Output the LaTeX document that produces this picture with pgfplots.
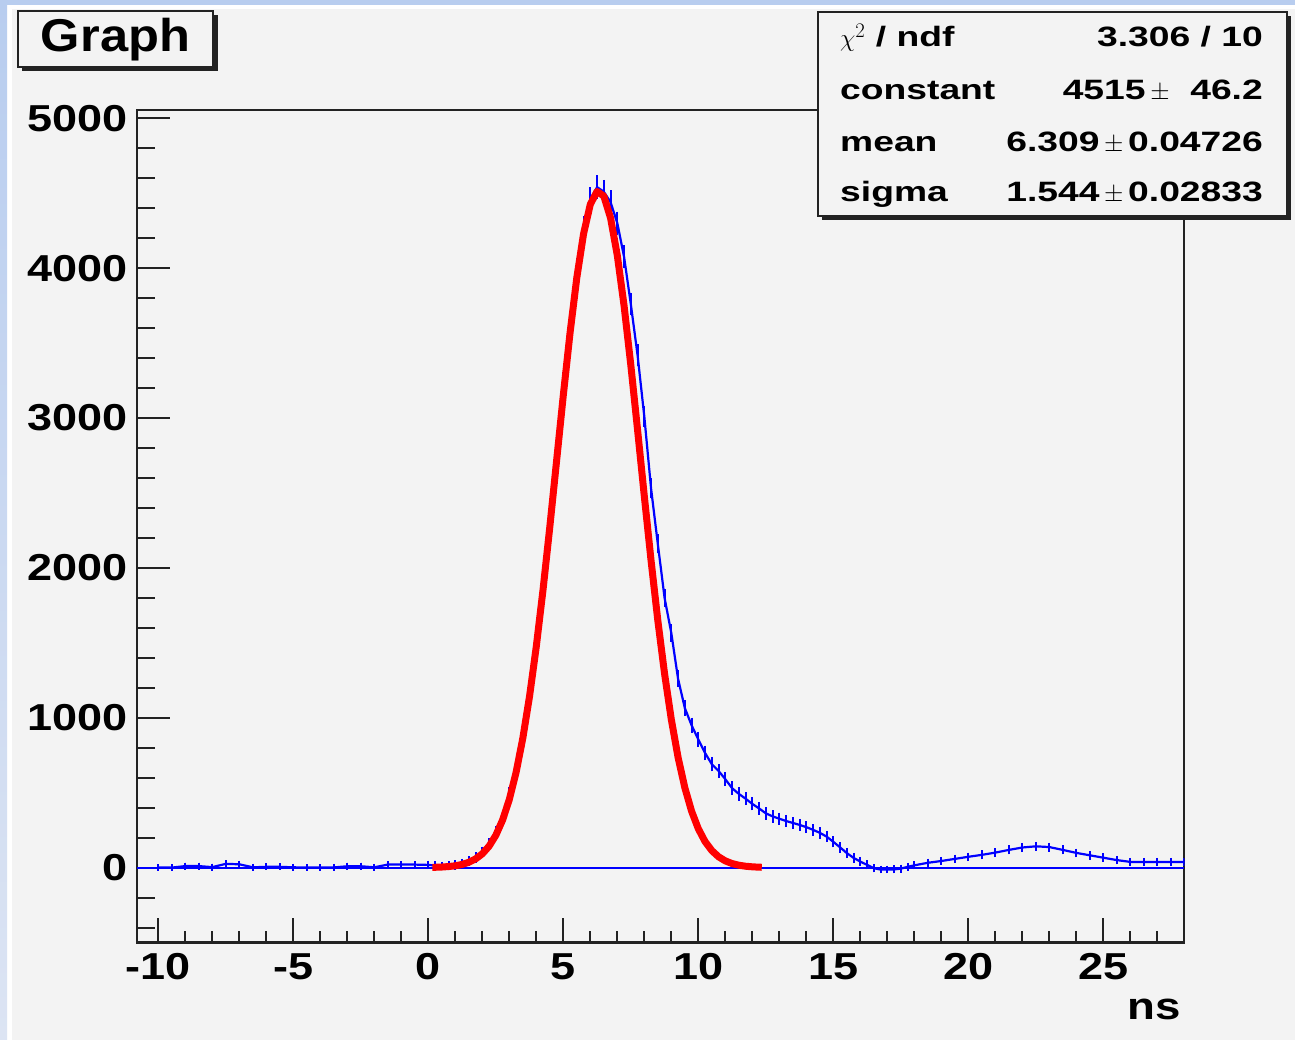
\documentclass[border=0pt]{standalone}
\usepackage{pgfplots}
\usepackage{pgfplotstable}
\pgfplotsset{compat=1.18}
\usepackage{fontspec}
\setmainfont{Liberation Sans}
\newfontfamily\tickfont{Liberation Sans}[FakeStretch=1.2]
\newfontfamily\statfont{Liberation Sans}[FakeStretch=1.33]
\newfontfamily\titlefont{Liberation Sans}[FakeStretch=1.1]
\definecolor{bg}{HTML}{F3F3F3}
\definecolor{topblue}{HTML}{B8CDEF}
\definecolor{leftblue}{HTML}{DCE4F3}
\definecolor{axcol}{HTML}{222222}

\pgfplotstableread{
x y ey
-10 0 0
-9.5 0 0
-9 10 0
-8.5 10 0
-8 3 0
-7.5 25 0
-7 22 0
-6.5 2 0
-6 5 0
-5.5 5 0
-5 2 0
-4.5 0 0
-4 0 0
-3.5 1 0
-3 9 0
-2.5 9 0
-2 2 0
-1.5 20 0
-1 20 0
-0.5 20 0
0 18 5
0.25 14 5
0.5 10 5
0.75 12 6
1 17 7
1.25 26 8
1.5 42 10
1.75 66 12
2 102 14
2.25 155 16
2.5 235 18
2.75 342 20
3 488 24
3.25 676 27
3.5 915 31
3.75 1205 35
4 1550 38
4.25 1938 42
4.5 2360 45
4.75 2800 48
5 3235 50
5.25 3640 52
5.5 3990 54
5.75 4270 55
6 4460 55
6.25 4540 56
6.5 4510 55
6.75 4440 55
7 4300 54
7.25 4075 53
7.5 3760 51
7.75 3420 49
8 3010 46
8.25 2530 43
8.5 2160 40
8.75 1800 37
9 1565 35
9.25 1260 32
9.5 1065 30
9.75 950 28
10 855 27
10.25 765 26
10.5 690 25
10.75 645 24
11 590 23
11.25 530 22
11.5 492 21
11.75 460 20
12 425 20
12.25 395 19
12.5 362 18
12.75 342 18
13 326 17
13.25 311 17
13.5 298 16
13.75 285 16
14 270 16
14.25 252 15
14.5 232 15
14.75 207 14
15 172 13
15.25 135 12
15.5 97 11
15.75 65 10
16 40 8
16.25 18 6
16.5 -4 4
16.75 -13 3
17 -13 3
17.25 -12 3
17.5 -7 3
17.75 5 3
18 15 3
18.5 32 4
19 44 4
19.5 58 5
20 72 5
20.5 85 6
21 100 6
21.5 118 7
22 134 7
22.5 142 7
23 137 7
23.5 118 7
24 98 6
24.5 82 6
25 66 5
25.5 50 5
26 38 4
26.5 37 4
27 37 4
27.5 37 4
28 37 4
}\bluedata

\pgfplotstableread{
x y
0.15 1.6
0.25 2.0
0.5 3.8
0.75 6.9
1.0 12.2
1.25 21.1
1.5 35.3
1.75 57.8
2.0 91.9
2.25 142.5
2.5 215.3
2.75 316.9
3.0 454.3
3.25 634.3
3.5 862.9
3.75 1143.3
4.0 1475.8
4.25 1855.7
4.5 2272.8
4.75 2711.8
5.0 3152.0
5.25 3568.5
5.5 3935.9
5.75 4228.6
6.0 4425.5
6.25 4511.7
6.5 4480.6
6.75 4334.5
7.0 4084.7
7.25 3749.8
7.5 3353.3
7.75 2920.9
8.0 2478.6
8.25 2048.8
8.5 1649.6
8.75 1293.9
9.0 988.6
9.25 735.9
9.5 533.6
9.75 376.9
10.0 259.3
10.25 173.7
10.5 113.5
10.75 72.2
11.0 44.7
11.25 27.0
11.5 15.9
11.75 9.1
12.0 5.1
12.25 2.8
12.35 2.1
}\reddata

\begin{document}
\begin{tikzpicture}[x=1pt,y=1pt]
\path[use as bounding box] (0,0) rectangle (1295,1040);
\fill[bg] (0,0) rectangle (1295,1040);
\fill[white] (7,0) rectangle (12,1035);
\fill[white] (7,1031) rectangle (1295,1035);
\shade[top color=topblue,bottom color=leftblue] (0,0) rectangle (7,1040);
\fill[topblue] (0,1035) rectangle (1295,1040);

\begin{axis}[
  at={(428.3pt,172.4pt)}, anchor=origin, scale only axis,
  width=1047.3pt, height=832.5pt,
  xmin=-10.79, xmax=28.0, ymin=-500, ymax=5055,
  axis background/.style={fill=bg},
  axis line style={line width=2.2pt, axcol},
  tick align=inside, xtick pos=bottom, ytick pos=left,
  xtick={-15,-10,...,30}, ytick={-1000,0,...,5000},
  minor x tick num=4, minor y tick num=4,
  major tick length=33pt, minor tick length=18pt,
  every major x tick/.append style={/pgfplots/major tick length=25pt},
  every minor x tick/.append style={/pgfplots/minor tick length=12pt},
  tick style={line width=2pt, axcol},
  ticklabel style={font=\tickfont\bfseries\fontsize{37.5}{37.5}\selectfont, inner sep=0pt, text=black},
  yticklabel style={xshift=-9pt},
  xticklabel style={yshift=-11pt},
  /pgf/number format/assume math mode=true,
  /pgf/number format/1000 sep={},
  scaled ticks=false,
]
\addplot[blue, line width=2pt, forget plot] coordinates {(-10.79,0) (28,0)};
\addplot[blue, line width=2.2pt, mark=none,
  error bars/.cd, y dir=both, y explicit,
  error bar style={line width=2pt, blue},
  error mark options={line width=2pt, blue, mark size=3.5pt}]
  table[x=x, y=y, y error=ey] {\bluedata};
\addplot[red, line width=7pt, line join=round, mark=none] table[x=x, y=y] {\reddata};
\end{axis}

% title box
\fill[axcol] (22,969) rectangle (218,1025);
\filldraw[fill=bg, draw=axcol, line width=2pt] (18,973) rectangle (213,1029);
\node[anchor=base, inner sep=0pt] at (115.5,988) {\titlefont\bfseries\fontsize{46}{46}\selectfont Graph};

% stats box
\fill[axcol] (822,820) rectangle (1291,1024);
\filldraw[fill=bg, draw=axcol, line width=2pt] (818,824) rectangle (1287,1028);
\begin{scope}[every node/.style={inner sep=0pt}]
\node[anchor=base west] at (840,993) {\statfont\bfseries\fontsize{28}{28}\selectfont $\chi^{2}$ / ndf};
\node[anchor=base east] at (1263,993) {\statfont\bfseries\fontsize{28}{28}\selectfont 3.306 / 10};
\node[anchor=base west] at (840,940) {\statfont\bfseries\fontsize{28}{28}\selectfont constant};
\node[anchor=base east] at (1263,940) {\statfont\bfseries\fontsize{28}{28}\selectfont 4515\,$\pm$\ \ 46.2};
\node[anchor=base west] at (840,888) {\statfont\bfseries\fontsize{28}{28}\selectfont mean};
\node[anchor=base east] at (1263,888) {\statfont\bfseries\fontsize{28}{28}\selectfont 6.309\,$\pm$\,0.04726};
\node[anchor=base west] at (840,838) {\statfont\bfseries\fontsize{28}{28}\selectfont sigma};
\node[anchor=base east] at (1263,838) {\statfont\bfseries\fontsize{28}{28}\selectfont 1.544\,$\pm$\,0.02833};
\end{scope}

% x axis title
\node[anchor=base east, inner sep=0pt] at (1181,20) {\tickfont\bfseries\fontsize{38}{38}\selectfont ns};
\end{tikzpicture}
\end{document}
